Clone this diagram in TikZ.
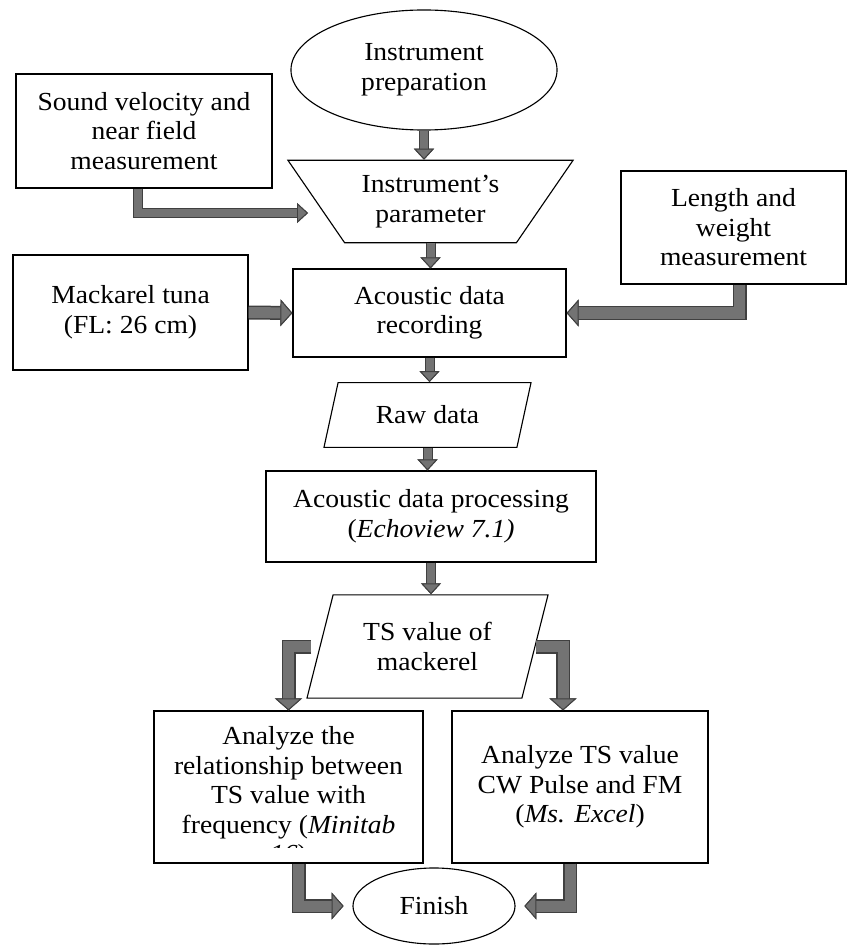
\documentclass[tikz,border=0pt]{standalone}
\usepackage{fontspec}
\setmainfont{Liberation Serif}[FakeStretch=1.06]
\usetikzlibrary{shapes.geometric,
  arrows.meta
}
\tikzset{>=latex,
  every node/.style={font=\fontsize{18.5pt}{21pt}\selectfont,align=center,inner sep=0pt},
  box/.style={draw,line width=0.8pt},
  pipe/.style={draw=black!55,line width=0.2cm,
    -{Triangle[length=0.275cm,width=0.5cm,line width=0.7pt,color=black!75,fill=black!55]},
    preaction={draw=black!75,line width=0.25cm,
      -{Triangle[length=0.275cm,width=0.5cm,line width=0.7pt]}}},
  widepipe/.style={draw=black!55,line width=0.275cm,
    -{Triangle[length=0.3cm,width=0.675cm,line width=0.7pt,color=black!75,fill=black!55]},
    preaction={draw=black!75,line width=0.35cm,
      -{Triangle[length=0.3cm,width=0.675cm,line width=0.7pt]}}}
}

\begin{document}
\begin{tikzpicture}[x=0.025cm,y=-0.025cm]
  \useasboundingbox (0,0) rectangle (847,945);
  \node[box,ellipse,minimum width=6.65cm,minimum height=3cm] (prep) at (424,70) {Instrument\\preparation};
  \node[box,minimum width=6.4cm,minimum height=2.85cm] (sound) at (144,131) {Sound velocity and\\near field\\measurement};
  \node[box,trapezium,trapezium left angle=124.5,trapezium right angle=124.5,trapezium stretches body,
    inner ysep=0.375cm,minimum width=7.125cm] (par) at (430.5,201.5) {Instrument's\\parameter};
  \node[box,minimum width=5.625cm,minimum height=2.825cm] (len) at (733.5,227.5) {Length and\\weight\\measurement};
  \node[box,minimum width=5.875cm,minimum height=2.875cm] (mack) at (130.5,312.5) {Mackarel tuna\\(FL: 26 cm)};
  \node[box,minimum width=6.825cm,minimum height=2.2cm] (rec) at (429.5,313) {Acoustic data\\recording};
  \node[box,trapezium,trapezium left angle=77.7,trapezium right angle=102.3,trapezium stretches body,
    inner ysep=0.58cm,minimum width=5.175cm] (raw) at (427.5,415) {Raw data};
  \node[box,minimum width=8.25cm,minimum height=2.275cm] (proc) at (431,516.5) {Acoustic data processing\\(\textit{Echoview 7.1)}};
  \node[box,trapezium,trapezium left angle=75.8,trapezium right angle=104.2,trapezium stretches body,
    inner ysep=0.69cm,minimum width=6.025cm] (ts) at (427.5,646.5) {TS value of\\mackerel};
  \node[box,minimum width=6.725cm,minimum height=3.8cm] (ana) at (288.5,787) {};
  \begin{scope}
    \clip (ana.north west) rectangle ([yshift=0.4cm]ana.south east);
    \node[anchor=north] (anatxt) at ([yshift=-0.4cm]ana.north)
    {Analyze the\\relationship between\\TS value with\\frequency (\textit{Minitab}\\\textit{16})};
  \end{scope}
  \node[box,minimum width=6.4cm,minimum height=3.8cm] (exc) at (580,787) {Analyze TS value\\CW Pulse and FM\\(\textit{Ms. Excel})};
  \node[box,ellipse,minimum width=4.05cm,minimum height=1.9cm] (fin) at (434,906) {Finish};
  \coordinate (sv) at (308,213);
  % Arrows
  \draw[pipe] (prep.south) -- (prep.south |- par.north);
  \draw[pipe] ([xshift=-0.15cm]sound.south) |- (sv);
  \draw[pipe] (par.south) -- (par.south |- rec.north);
  \draw[widepipe] (mack.east) -- (rec.west);
  \draw[widepipe] ([xshift=0.15cm]len.south) |- (rec.east);
  \draw[pipe] (rec.south) -- (rec.south |- raw.north);
  \draw[pipe] (raw.south) -- (raw.south |- proc.north);
  \draw[pipe] (proc.south) -- (proc.south |- ts.north);
  \draw[widepipe] ([xshift=-0.2cm]ts.west) -| (ana.north);
  \draw[widepipe] (ts.east) -| ([xshift=-0.425cm]exc.north);
  \draw[widepipe,shorten >=0.22cm] ([xshift=0.25cm]ana.south) |- (fin.west);
  \draw[widepipe,shorten >=0.22cm] ([xshift=-0.25cm]exc.south) |- (fin.east);
\end{tikzpicture}
\end{document}
